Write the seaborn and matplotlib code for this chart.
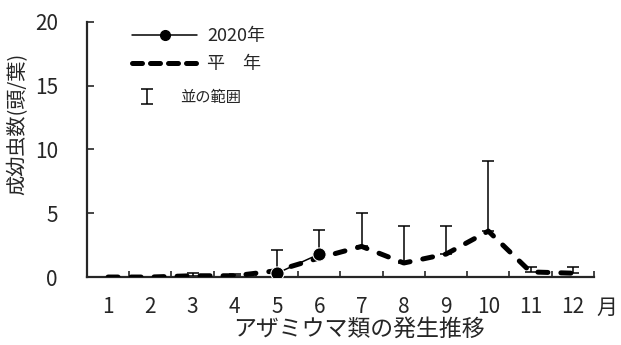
import numpy as np
import pandas as pd
import matplotlib.pyplot as plt
import seaborn as sns
from matplotlib.lines import Line2D

# monthly data
months = list(range(1, 13))
avg_vals = [0.0, 0.0, 0.1, 0.1, 0.5, 1.5, 2.4, 1.1, 1.8, 3.6, 0.4, 0.3]
range_top = [0.0, 0.0, 0.35, 0.2, 2.1, 3.7, 5.0, 4.0, 4.0, 9.1, 0.8, 0.8]
months_2020 = [5, 6]
vals_2020 = [0.3, 1.8]
y_ticks = [0, 5, 10, 15, 20]

sns.set_style("ticks")
plt.rcParams['font.family'] = ['Noto Sans CJK JP', 'DejaVu Sans']

avg_df = pd.DataFrame({"month": months, "value": avg_vals, "top": range_top})
df_2020 = pd.DataFrame({"month": months_2020, "value": vals_2020})

fig = plt.figure(figsize=(6.21, 3.45), dpi=100)
ax = fig.add_axes([0.140, 0.197, 0.8165, 0.740])

# range bars (upper side only)
rng = avg_df[avg_df["top"] > avg_df["value"]]
eb = ax.errorbar(rng["month"], rng["value"],
                 yerr=[np.zeros(len(rng)), rng["top"] - rng["value"]],
                 fmt='none', ecolor='black', elinewidth=1.1,
                 capsize=4.3, capthick=1.1, zorder=2)

# average year, thick dashed
sns.lineplot(data=avg_df, x="month", y="value", ax=ax, color='black',
             linewidth=3.6, linestyle=(0, (2.0, 2.6)),
             dash_capstyle='round', zorder=3)

# 2020
sns.lineplot(data=df_2020, x="month", y="value", ax=ax, color='black',
             linewidth=1.1, marker='o', markersize=9.5, zorder=4)

ax.set_xlim(0.5, 12.5)
ax.set_ylim(0, 20)
ax.set_xticks(months)
ax.set_xticks(np.arange(0.5, 13, 1), minor=True)
ax.set_yticks(y_ticks)
ax.tick_params(axis='x', which='major', length=0, pad=14, labelsize=15)
ax.tick_params(axis='x', which='minor', direction='in', length=4, width=1.2)
ax.tick_params(axis='y', direction='in', length=5, width=1.2, pad=21, labelsize=15)
for s in ['top', 'right']:
    ax.spines[s].set_visible(False)
for s in ['left', 'bottom']:
    ax.spines[s].set_linewidth(1.6)

ax.set_xlabel("アザミウマ類の発生推移", fontsize=16.5)
ax.xaxis.set_label_coords(0.537, -0.16)
ax.set_ylabel("成幼虫数(頭/葉)", fontsize=14.5)
ax.yaxis.set_label_coords(-0.115, 0.598)
fig.text(607 / 621, 1 - 308 / 345, "月", ha='center', va='center', fontsize=15)

# legend
h1 = Line2D([], [], color='black', linewidth=1.1, marker='o', markersize=7)
h2 = Line2D([], [], color='black', linewidth=3.6, linestyle=(0, (2.0, 1.6)),
            dash_capstyle='round')
leg1 = ax.legend([h1, h2], ["2020年", "平　年"], loc='upper left',
                 bbox_to_anchor=(132 / 621, 1 - 27 / 345),
                 bbox_transform=fig.transFigure, frameon=False,
                 borderpad=0, borderaxespad=0, handlelength=3.6,
                 handletextpad=0.55, labelspacing=0.55, fontsize=13)
ax.add_artist(leg1)
ax.legend([eb], ["並の範囲"], loc='upper left',
          bbox_to_anchor=(134 / 621, 1 - 89 / 345),
          bbox_transform=fig.transFigure, frameon=False,
          borderpad=0, borderaxespad=0, handlelength=1.7,
          handletextpad=1.3, fontsize=11)

fig.savefig("out.png", dpi=100)
